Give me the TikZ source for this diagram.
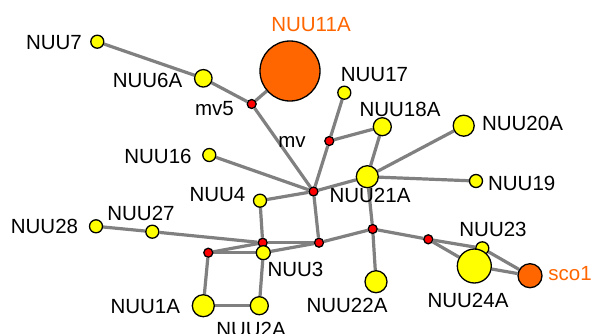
\documentclass[tikz,border=0pt]{standalone}
\usepackage{fontspec}
\setmainfont{Liberation Sans}
\usetikzlibrary{backgrounds}
\definecolor{nyel}{RGB}{255,255,0}
\definecolor{nred}{RGB}{255,0,0}
\definecolor{nora}{RGB}{255,102,0}
\definecolor{egray}{RGB}{128,128,128}
\tikzset{
  vtx/.style={circle, draw=black, line width=1.3pt, inner sep=0pt, minimum size=#1},
  yv/.style={vtx=#1, fill=nyel},
  rv/.style={vtx=9pt, fill=nred},
  ov/.style={vtx=#1, fill=nora},
  lab/.style={anchor=base, inner sep=0pt, font=\fontsize{20.5}{24}\selectfont},
  olab/.style={lab, text=nora},
  edge/.style={draw=egray, line width=3.2pt}
}
\begin{document}
\begin{tikzpicture}[x=1pt,y=-1pt]
\useasboundingbox (0,0) rectangle (591,333);
% nodes
\node[yv=13pt] (n7) at (97.3,41.7) {};
\node[yv=17.5pt] (n6a) at (203.3,78.3) {};
\node[rv] (mv5) at (251.7,104) {};
\node[ov=60pt] (n11a) at (290,71) {};
\node[yv=13pt] (n16) at (209.3,155) {};
\node[yv=13pt] (n17) at (344.3,92.7) {};
\node[rv] (mv) at (329.3,141) {};
\node[yv=18pt] (n18a) at (382.3,126.7) {};
\node[yv=21pt] (n20a) at (463.7,125.7) {};
\node[yv=22pt] (n21a) at (367.3,176.7) {};
\node[rv] (hub) at (313.5,191.5) {};
\node[yv=13pt] (n19) at (476,181) {};
\node[yv=13pt] (n4) at (260,200.7) {};
\node[yv=13pt] (n28) at (96,226.3) {};
\node[yv=13pt] (n27) at (152.3,231.7) {};
\node[rv] (ra) at (262.7,242.7) {};
\node[rv] (rb) at (319,242.7) {};
\node[rv] (rc) at (208.3,252.7) {};
\node[yv=14pt] (n3) at (263.3,252.7) {};
\node[yv=22pt] (n1a) at (203.3,305.7) {};
\node[yv=18pt] (n2a) at (259.3,305.7) {};
\node[rv] (rd) at (372.7,229) {};
\node[rv] (re) at (428.3,239.3) {};
\node[yv=22pt] (n22a) at (376,281.7) {};
\node[yv=13pt] (n23) at (482.3,248.3) {};
\node[yv=34pt] (n24a) at (474.3,266) {};
\node[ov=24pt] (sco1) at (530,275.7) {};
% edges
\begin{scope}[on background layer]
\fill[white] (0,0) rectangle (591,333);
\path[edge] (n7) -- (n6a);
\path[edge] (n6a) -- (mv5);
\path[edge] (mv5) -- (n11a);
\path[edge] (mv5) -- (hub);
\path[edge] (n17) -- (mv);
\path[edge] (mv) -- (hub);
\path[edge] (mv) -- (n18a);
\path[edge] (n18a) -- (n21a);
\path[edge] (n21a) -- (n20a);
\path[edge] (n21a) -- (n19);
\path[edge] (n21a) -- (hub);
\path[edge] (n16) -- (hub);
\path[edge] (n4) -- (hub);
\path[edge] (n4) -- (ra);
\path[edge] (hub) -- (rb);
\path[edge] (n28) -- (n27);
\path[edge] (n27) -- (ra);
\path[edge] (rc) -- (ra);
\path[edge] (rc) -- (n3);
\path[edge] (rc) -- (n1a);
\path[edge] (n1a) -- (n2a);
\path[edge] (n2a) -- (n3);
\path[edge] (ra) -- (rb);
\path[edge] (n3) -- (rb);
\path[edge] (rb) -- (rd);
\path[edge] (rd) -- (n21a);
\path[edge] (rd) -- (n22a);
\path[edge] (rd) -- (re);
\path[edge] (re) -- (n23);
\path[edge] (re) -- (n24a);
\path[edge] (n23) -- (sco1);
\path[edge] (n24a) -- (sco1);
\end{scope}
% labels
\node[lab] (l7) at (54,49) {NUU7};
\node[lab] (l6a) at (147.5,87) {NUU6A};
\node[lab] (lmv5) at (214.5,115) {mv5};
\node[olab] (l11a) at (311,31) {NUU11A};
\node[lab] (l16) at (158,163) {NUU16};
\node[lab] (l17) at (374.5,81.7) {NUU17};
\node[lab] (l18a) at (400,116) {NUU18A};
\node[lab] (l20a) at (522.5,130.7) {NUU20A};
\node[lab] (lmv) at (292,147.7) {mv};
\node[lab] (l21a) at (370,202.7) {NUU21A};
\node[lab] (l19) at (521.7,190.7) {NUU19};
\node[lab] (l4) at (217.5,201.7) {NUU4};
\node[lab] (l28) at (44.5,233.3) {NUU28};
\node[lab] (l27) at (141,220.7) {NUU27};
\node[lab] (l3) at (295.5,276) {NUU3};
\node[lab] (l1a) at (145.3,313.3) {NUU1A};
\node[lab] (l2a) at (251,336) {NUU2A};
\node[lab] (l22a) at (347,312.3) {NUU22A};
\node[lab] (l24a) at (468,307.7) {NUU24A};
\node[lab] (l23) at (493,236) {NUU23};
\node[olab] (lsco1) at (570,280.7) {sco1};
\end{tikzpicture}
\end{document}
